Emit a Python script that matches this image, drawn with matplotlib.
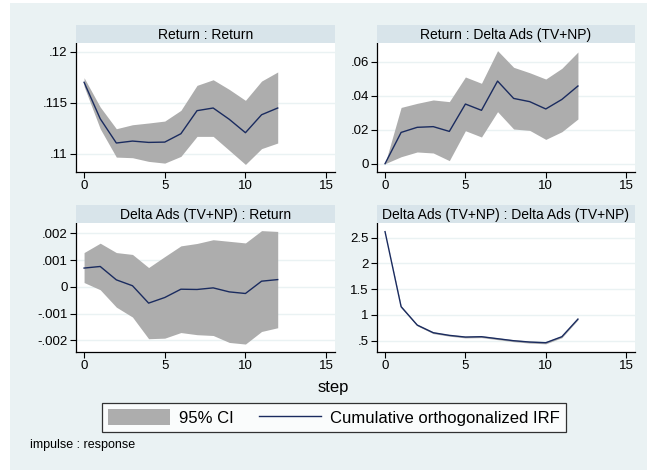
import matplotlib
matplotlib.use("Agg")
import matplotlib.pyplot as plt
from matplotlib.patches import Rectangle, Patch
from matplotlib.lines import Line2D

plt.rcParams['font.family'] = ['Liberation Sans', 'DejaVu Sans']

steps = [0, 1, 2, 3, 4, 5, 6, 7, 8, 9, 10, 11, 12]

titles = ["Return : Return", "Return : Delta Ads (TV+NP)",
          "Delta Ads (TV+NP) : Return", "Delta Ads (TV+NP) : Delta Ads (TV+NP)"]

# Return : Return
rr_irf = [0.1170, 0.11343, 0.11105, 0.11124, 0.11111, 0.11114, 0.11196, 0.11422, 0.11448, 0.11337, 0.11206, 0.11382, 0.11448]
rr_hi = [0.11745, 0.11458, 0.11245, 0.11284, 0.11301, 0.11320, 0.11425, 0.11670, 0.11725, 0.11630, 0.11523, 0.11712, 0.11801]
rr_lo = [0.11660, 0.11245, 0.10967, 0.10961, 0.10925, 0.10908, 0.10974, 0.11170, 0.11170, 0.11033, 0.10895, 0.11050, 0.11105]

# Return : Delta Ads
ra_irf = [0.0, 0.0184, 0.0214, 0.0218, 0.0190, 0.0351, 0.0314, 0.0486, 0.0384, 0.0365, 0.0322, 0.0378, 0.0457]
ra_hi = [0.0, 0.0331, 0.0355, 0.0375, 0.0365, 0.0510, 0.0473, 0.0665, 0.0567, 0.0535, 0.0498, 0.0561, 0.0657]
ra_lo = [0.0, 0.0041, 0.0069, 0.0063, 0.0018, 0.0194, 0.0157, 0.0306, 0.0204, 0.0196, 0.0143, 0.0188, 0.0263]

# Delta Ads : Return
ar_irf = [0.00070, 0.00076, 0.00026, 0.00004, -0.00061, -0.00040, -0.00009, -0.00010, -0.00004, -0.00019, -0.00025, 0.00021, 0.00027]
ar_hi = [0.00128, 0.00163, 0.00128, 0.00121, 0.00072, 0.00113, 0.00153, 0.00162, 0.00176, 0.00170, 0.00164, 0.00210, 0.00207]
ar_lo = [0.00016, -0.00011, -0.00076, -0.00113, -0.00194, -0.00192, -0.00171, -0.00179, -0.00182, -0.00208, -0.00214, -0.00167, -0.00153]

# Delta Ads : Delta Ads
aa_irf = [2.617, 1.160, 0.804, 0.655, 0.604, 0.571, 0.578, 0.539, 0.500, 0.474, 0.461, 0.578, 0.920]
aa_hi = [2.617, 1.180, 0.820, 0.672, 0.620, 0.588, 0.596, 0.557, 0.519, 0.494, 0.482, 0.598, 0.935]
aa_lo = [2.617, 1.140, 0.788, 0.638, 0.588, 0.554, 0.560, 0.521, 0.481, 0.454, 0.440, 0.558, 0.905]

xticks = [0, 5, 10, 15]
yticks = [[0.11, 0.115, 0.12], [0, 0.02, 0.04, 0.06],
          [-0.002, -0.001, 0, 0.001, 0.002], [0.5, 1, 1.5, 2, 2.5]]
ytick_labels = [[".11", ".115", ".12"], ["0", ".02", ".04", ".06"],
                ["-.002", "-.001", "0", ".001", ".002"], [".5", "1", "1.5", "2", "2.5"]]
ylims = [(0.10821, 0.12085), (-0.00488, 0.0710), (-0.002437, 0.002385), (0.281, 2.785)]

irfs = [rr_irf, ra_irf, ar_irf, aa_irf]
his = [rr_hi, ra_hi, ar_hi, aa_hi]
los = [rr_lo, ra_lo, ar_lo, aa_lo]

W, H = 647, 473
BG = "#EAF2F3"
BAR = "#D8E4EA"
CI_COL = "#ADADAD"
LINE_COL = "#1A2B5F"

fig = plt.figure(figsize=(W / 100, H / 100), dpi=100)
fig.patch.set_facecolor("white")
fig.patches.append(Rectangle((10 / W, 1 - 470 / H), (W - 10) / W, 467 / H,
                             transform=fig.transFigure, facecolor=BG,
                             edgecolor="none", zorder=-10))

# panel pixel boxes: (left, top, right, bottom)
boxes = [(76, 43, 335, 172), (377, 43, 635, 172),
         (76, 223, 335, 352), (377, 223, 635, 352)]
bar_h = 18

for i, (l, t, r, b) in enumerate(boxes):
    ax = fig.add_axes([l / W, 1 - b / H, (r - l) / W, (b - t) / H])
    ax.set_facecolor("white")
    ax.fill_between(steps, los[i], his[i], color=CI_COL, linewidth=0, zorder=2)
    ax.plot(steps, irfs[i], color=LINE_COL, linewidth=1.0, zorder=3)
    ax.set_xlim(-0.5, 15.55)
    ax.set_ylim(*ylims[i])
    ax.set_xticks(xticks)
    ax.set_xticklabels([str(v) for v in xticks])
    ax.set_yticks(yticks[i])
    ax.set_yticklabels(ytick_labels[i])
    ax.yaxis.grid(True, color=BG, linewidth=1.0, zorder=0)
    ax.set_axisbelow(True)
    for s in ["top", "right"]:
        ax.spines[s].set_visible(False)
    for s in ["left", "bottom"]:
        ax.spines[s].set_color("black")
        ax.spines[s].set_linewidth(0.9)
    ax.tick_params(direction="out", length=4, width=0.8, labelsize=9.5,
                   color="black", pad=2)
    # title bar
    tb = fig.add_axes([l / W, 1 - t / H, (r - l) / W, bar_h / H])
    tb.set_facecolor(BAR)
    tb.set_xticks([])
    tb.set_yticks([])
    for s in tb.spines.values():
        s.set_visible(False)
    tb.text(0.5, 0.45, titles[i], ha="center", va="center", fontsize=10,
            transform=tb.transAxes)

fig.text(333 / W, 1 - 387 / H, "step", ha="center", va="center", fontsize=12)

handles = [Patch(facecolor=CI_COL, edgecolor="none"),
           Line2D([], [], color=LINE_COL, linewidth=1.0)]
leg = fig.legend(handles, ["95% CI", "Cumulative orthogonalized IRF"],
                 loc="center", bbox_to_anchor=(334 / W, 1 - 417.5 / H),
                 ncol=2, fontsize=12, frameon=True, fancybox=False,
                 handlelength=3.7, handleheight=1.06, handletextpad=0.55,
                 columnspacing=1.5, borderpad=0.4)
leg.get_frame().set_edgecolor("black")
leg.get_frame().set_linewidth(0.9)

fig.text(30 / W, 1 - 445 / H, "impulse : response", ha="left", va="center",
         fontsize=9)

fig.savefig("out.png", dpi=100)
